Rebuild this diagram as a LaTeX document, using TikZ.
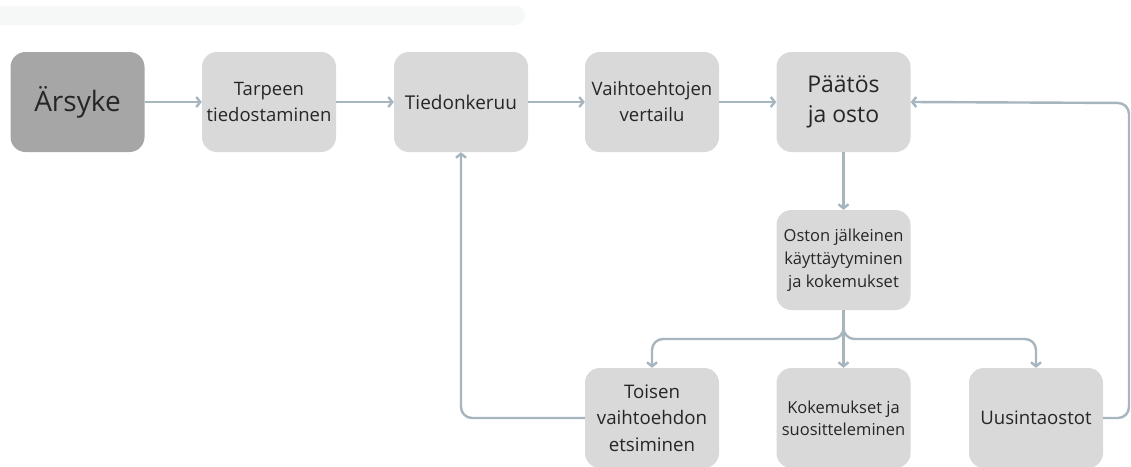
\documentclass[tikz,border=0pt]{standalone}
\usepackage{fontspec}
\setmainfont{Open Sans}
\usetikzlibrary{arrows.meta}
\definecolor{boxgray}{HTML}{D9D9D9}
\definecolor{darkbox}{HTML}{A6A6A6}
\definecolor{conncol}{HTML}{A7B5BF}
\definecolor{txt}{HTML}{262626}
\definecolor{faint}{HTML}{F6F7F7}
\begin{document}
\begin{tikzpicture}[x=1pt,y=-1pt,
  stage/.style={fill=boxgray, rounded corners=15pt, minimum width=134pt, minimum height=100pt, inner sep=0pt, align=center, text=txt},
  link/.style={draw=conncol, line width=2.4pt, -{Straight Barb[length=4pt,width=10pt]}, rounded corners=11pt},
  fs/.style={font=\fontsize{#1pt}{1.4*#1pt}\selectfont}]
\clip (0,0) rectangle (1131,466);
\useasboundingbox (0,0) rectangle (1131,466);
\fill[white] (0,0) rectangle (1131,466);
\fill[faint, rounded corners=10pt] (-10,6) rectangle (525,25);

\node[stage, fill=darkbox, font=\fontsize{28pt}{34pt}\selectfont] (A) at (77.5,102) {Ärsyke};
\node[stage, font=\fontsize{18.5pt}{26pt}\selectfont] (B) at (269,102) {Tarpeen\\tiedostaminen};
\node[stage, font=\fontsize{19pt}{26pt}\selectfont] (C) at (461,102) {Tiedonkeruu};
\node[stage, font=\fontsize{18.5pt}{26pt}\selectfont] (D) at (652,102) {Vaihtoehtojen\\vertailu};
\node[stage, font=\fontsize{23pt}{30pt}\selectfont] (E) at (843.5,102) {Päätös\\ja osto};
\node[stage, font=\fontsize{16.5pt}{23pt}\selectfont] (F) at (843.5,260) {Oston jälkeinen\\käyttäytyminen\\ja kokemukset};
\node[stage, font=\fontsize{18.7pt}{26.5pt}\selectfont] (G) at (652,418) {Toisen\\vaihtoehdon\\etsiminen};
\node[stage, font=\fontsize{16.5pt}{22pt}\selectfont] (H) at (843.5,418) {Kokemukset ja\\suositteleminen};
\node[stage, font=\fontsize{18.6pt}{26pt}\selectfont] (I) at (1036,418) {Uusintaostot};

\coordinate (fork) at (843.5,339);
\coordinate (rt) at (1129,103);

\draw[link] (A) -- (B);
\draw[link] (B) -- (C);
\draw[link] (C) -- (D);
\draw[link] (D) -- (E);
\draw[link] (E) -- (F);
\draw[link] (F.south) -- (fork) -| (G.north);
\draw[link] (F.south) -- (fork) -| (I.north);
\draw[link] (F) -- (H);
\draw[link] (I.east) -| (rt) -- (E.east);
\draw[link] (G.west) -| (C.south);
\end{tikzpicture}
\end{document}
